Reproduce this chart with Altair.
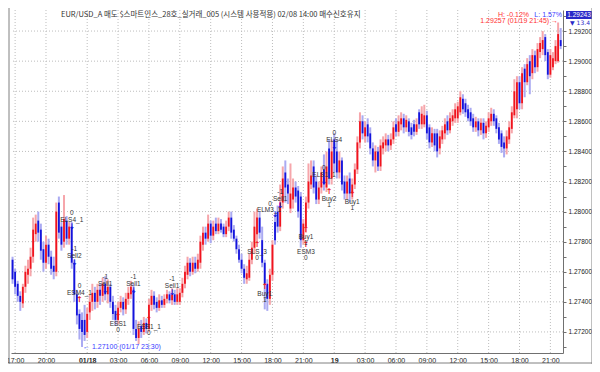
import altair as alt
import pandas as pd

# 15-minute EUR/USD bars, index 0 = 01/17 16:45
OPEN = [1.2768, 1.2760, 1.2752, 1.2744, 1.2739, 1.2750, 1.2758, 1.2762, 1.2770, 1.2785,
        1.2794, 1.2788, 1.2775, 1.2766, 1.2778, 1.2770, 1.2764, 1.2760, 1.2806, 1.2790,
        1.2780, 1.2794, 1.2782, 1.2790, 1.2766, 1.2745, 1.2732, 1.2728, 1.2728, 1.2720,
        1.2733, 1.2740, 1.2746, 1.2740, 1.2748, 1.2744, 1.2752, 1.2745, 1.2750, 1.2740,
        1.2734, 1.2728, 1.2736, 1.2740, 1.2735, 1.2742, 1.2745, 1.2748, 1.2722, 1.2716,
        1.2724, 1.2720, 1.2726, 1.2722, 1.2738, 1.2744, 1.2740, 1.2736, 1.2741, 1.2738,
        1.2742, 1.2745, 1.2741, 1.2745, 1.2740, 1.2740, 1.2746, 1.2752, 1.2758, 1.2766,
        1.2760, 1.2766, 1.2762, 1.2766, 1.2778, 1.2786, 1.2782, 1.2792, 1.2784, 1.2792,
        1.2787, 1.2792, 1.2790, 1.2785, 1.2790, 1.2796, 1.2788, 1.2782, 1.2775, 1.2768,
        1.2762, 1.2755, 1.2756, 1.2768, 1.2776, 1.2785, 1.2796, 1.2781, 1.2766, 1.2752,
        1.2742, 1.2758, 1.2793, 1.2800, 1.2790, 1.2806, 1.2826, 1.2818, 1.2802, 1.2808,
        1.2816, 1.2814, 1.2810, 1.2781, 1.2790, 1.2806, 1.2818, 1.2830, 1.2820, 1.2808,
        1.2816, 1.2828, 1.2816, 1.2842, 1.2822, 1.2848, 1.2840, 1.2826, 1.2834, 1.2820,
        1.2812, 1.2822, 1.2812, 1.2818, 1.2828, 1.2846, 1.2860, 1.2850, 1.2858, 1.2852,
        1.2842, 1.2834, 1.2840, 1.2830, 1.2842, 1.2844, 1.2848, 1.2844, 1.2848, 1.2858,
        1.2853, 1.2858, 1.2862, 1.2856, 1.2860, 1.2856, 1.2858, 1.2853, 1.2866, 1.2858,
        1.2858, 1.2864, 1.2856, 1.2846, 1.2852, 1.2852, 1.2842, 1.2848, 1.2852, 1.2860,
        1.2854, 1.2860, 1.2862, 1.2862, 1.2866, 1.2875, 1.2872, 1.2868, 1.2866, 1.2862,
        1.2856, 1.2860, 1.2854, 1.2859, 1.2852, 1.2856, 1.2860, 1.2865, 1.2862, 1.2856,
        1.2852, 1.2846, 1.2842, 1.2848, 1.2855, 1.2864, 1.2868, 1.2886, 1.2872, 1.2895,
        1.2886, 1.2900, 1.2892, 1.2904, 1.2896, 1.2906, 1.2908, 1.2916, 1.2906, 1.2891,
        1.2896, 1.2900, 1.2900, 1.2914]
HIGH = [1.2770, 1.2762, 1.2754, 1.2747, 1.2752, 1.2764, 1.2768, 1.2776, 1.2796, 1.2798,
        1.2800, 1.2792, 1.2780, 1.2784, 1.2782, 1.2774, 1.2770, 1.2806, 1.2810, 1.2793,
        1.2811, 1.2797, 1.2793, 1.2793, 1.2768, 1.2748, 1.2735, 1.2733, 1.2738, 1.2736,
        1.2745, 1.2752, 1.2750, 1.2752, 1.2752, 1.2756, 1.2757, 1.2755, 1.2752, 1.2744,
        1.2738, 1.2740, 1.2744, 1.2743, 1.2746, 1.2750, 1.2754, 1.2752, 1.2728, 1.2727,
        1.2728, 1.2730, 1.2729, 1.2742, 1.2748, 1.2747, 1.2743, 1.2745, 1.2744, 1.2745,
        1.2748, 1.2747, 1.2749, 1.2748, 1.2749, 1.2749, 1.2756, 1.2764, 1.2770, 1.2769,
        1.2770, 1.2770, 1.2772, 1.2784, 1.2790, 1.2790, 1.2798, 1.2794, 1.2794, 1.2796,
        1.2796, 1.2795, 1.2792, 1.2794, 1.2800, 1.2800, 1.2791, 1.2784, 1.2778, 1.2772,
        1.2765, 1.2764, 1.2772, 1.2780, 1.2800, 1.2802, 1.2800, 1.2790, 1.2768, 1.2755,
        1.2762, 1.2781, 1.2798, 1.2804, 1.2818, 1.2830, 1.2834, 1.2822, 1.2832, 1.2822,
        1.2820, 1.2817, 1.2813, 1.2795, 1.2810, 1.2832, 1.2834, 1.2834, 1.2824, 1.2820,
        1.2830, 1.2838, 1.2840, 1.2848, 1.2848, 1.2852, 1.2848, 1.2840, 1.2836, 1.2824,
        1.2824, 1.2826, 1.2822, 1.2832, 1.2850, 1.2866, 1.2864, 1.2860, 1.2862, 1.2856,
        1.2846, 1.2844, 1.2843, 1.2848, 1.2850, 1.2852, 1.2851, 1.2852, 1.2860, 1.2862,
        1.2864, 1.2866, 1.2865, 1.2864, 1.2862, 1.2859, 1.2861, 1.2862, 1.2868, 1.2870,
        1.2871, 1.2867, 1.2858, 1.2856, 1.2855, 1.2855, 1.2854, 1.2857, 1.2862, 1.2864,
        1.2866, 1.2868, 1.2872, 1.2873, 1.2880, 1.2878, 1.2875, 1.2871, 1.2869, 1.2865,
        1.2863, 1.2862, 1.2862, 1.2862, 1.2860, 1.2866, 1.2869, 1.2868, 1.2864, 1.2859,
        1.2854, 1.2850, 1.2854, 1.2860, 1.2870, 1.2888, 1.2890, 1.2890, 1.2896, 1.2898,
        1.2902, 1.2904, 1.2908, 1.2907, 1.2912, 1.2916, 1.2920, 1.2918, 1.2908, 1.2908,
        1.2906, 1.2914, 1.29257, 1.2922]
LOW = [1.2752, 1.2745, 1.2740, 1.2734, 1.2736, 1.2746, 1.2752, 1.2757, 1.2766, 1.2780,
       1.2780, 1.2768, 1.2760, 1.2762, 1.2765, 1.2758, 1.2755, 1.2757, 1.2782, 1.2774,
       1.2776, 1.2778, 1.2778, 1.2762, 1.2740, 1.2725, 1.2715, 1.2710, 1.2714, 1.2716,
       1.2728, 1.2734, 1.2735, 1.2736, 1.2738, 1.2740, 1.2741, 1.2739, 1.2736, 1.2728,
       1.2724, 1.2725, 1.2733, 1.2731, 1.2732, 1.2738, 1.2742, 1.2718, 1.2714, 1.2712,
       1.2716, 1.2718, 1.2719, 1.2720, 1.2734, 1.2735, 1.2733, 1.2734, 1.2736, 1.2736,
       1.2739, 1.2739, 1.2738, 1.2738, 1.2738, 1.2738, 1.2743, 1.2749, 1.2755, 1.2757,
       1.2758, 1.2759, 1.2760, 1.2762, 1.2774, 1.2778, 1.2780, 1.2779, 1.2781, 1.2785,
       1.2785, 1.2786, 1.2783, 1.2783, 1.2787, 1.2782, 1.2780, 1.2772, 1.2766, 1.2759,
       1.2752, 1.2752, 1.2754, 1.2765, 1.2772, 1.2780, 1.2782, 1.2763, 1.2735, 1.2734,
       1.2738, 1.2754, 1.2778, 1.2786, 1.2787, 1.2802, 1.2806, 1.2805, 1.2799, 1.2802,
       1.2806, 1.2796, 1.2776, 1.2778, 1.2786, 1.2802, 1.2815, 1.2812, 1.2805, 1.2805,
       1.2812, 1.2814, 1.2813, 1.2818, 1.2818, 1.2826, 1.2822, 1.2822, 1.2814, 1.2808,
       1.2808, 1.2806, 1.2808, 1.2815, 1.2825, 1.2842, 1.2848, 1.2846, 1.2846, 1.2838,
       1.2830, 1.2826, 1.2827, 1.2827, 1.2838, 1.2840, 1.2840, 1.2841, 1.2845, 1.2850,
       1.2850, 1.2854, 1.2852, 1.2853, 1.2850, 1.2848, 1.2850, 1.2851, 1.2855, 1.2855,
       1.2856, 1.2848, 1.2842, 1.2843, 1.2840, 1.2836, 1.2838, 1.2845, 1.2848, 1.2851,
       1.2852, 1.2857, 1.2859, 1.2859, 1.2864, 1.2865, 1.2863, 1.2860, 1.2857, 1.2853,
       1.2853, 1.2850, 1.2851, 1.2848, 1.2849, 1.2853, 1.2857, 1.2857, 1.2852, 1.2845,
       1.2839, 1.2836, 1.2838, 1.2845, 1.2852, 1.2862, 1.2862, 1.2868, 1.2868, 1.2876,
       1.2884, 1.2878, 1.2888, 1.2892, 1.2893, 1.2902, 1.2904, 1.2900, 1.2888, 1.2889,
       1.2894, 1.2898, 1.2899, 1.2908]
CLOSE = [1.2755, 1.2750, 1.2744, 1.2740, 1.2750, 1.2760, 1.2762, 1.2770, 1.2788, 1.2792,
         1.2786, 1.2774, 1.2766, 1.2778, 1.2770, 1.2762, 1.2760, 1.2800, 1.2786, 1.2778,
         1.2795, 1.2782, 1.2790, 1.2766, 1.2745, 1.2731, 1.2722, 1.2720, 1.2718, 1.2732,
         1.2740, 1.2746, 1.2740, 1.2748, 1.2744, 1.2752, 1.2745, 1.2750, 1.2740, 1.2732,
         1.2728, 1.2736, 1.2740, 1.2735, 1.2742, 1.2746, 1.2750, 1.2722, 1.2716, 1.2722,
         1.2720, 1.2726, 1.2722, 1.2738, 1.2744, 1.2738, 1.2736, 1.2741, 1.2738, 1.2742,
         1.2745, 1.2741, 1.2745, 1.2740, 1.2745, 1.2746, 1.2752, 1.2760, 1.2766, 1.2760,
         1.2766, 1.2762, 1.2768, 1.2780, 1.2786, 1.2782, 1.2792, 1.2784, 1.2790, 1.2787,
         1.2792, 1.2788, 1.2785, 1.2790, 1.2796, 1.2786, 1.2782, 1.2775, 1.2768, 1.2762,
         1.2756, 1.2759, 1.2768, 1.2776, 1.2790, 1.2796, 1.2786, 1.2766, 1.2752, 1.2742,
         1.2758, 1.2778, 1.2781, 1.2790, 1.2806, 1.2822, 1.2816, 1.2812, 1.2812, 1.2816,
         1.2810, 1.2800, 1.2781, 1.2792, 1.2806, 1.2820, 1.2824, 1.2816, 1.2808, 1.2816,
         1.2826, 1.2818, 1.2830, 1.2822, 1.2840, 1.2832, 1.2826, 1.2834, 1.2818, 1.2812,
         1.2820, 1.2812, 1.2818, 1.2828, 1.2846, 1.2860, 1.2852, 1.2856, 1.2850, 1.2842,
         1.2834, 1.2840, 1.2830, 1.2844, 1.2846, 1.2848, 1.2844, 1.2848, 1.2856, 1.2853,
         1.2860, 1.2862, 1.2856, 1.2861, 1.2853, 1.2851, 1.2853, 1.2858, 1.2858, 1.2865,
         1.2864, 1.2852, 1.2846, 1.2852, 1.2844, 1.2840, 1.2850, 1.2854, 1.2858, 1.2854,
         1.2862, 1.2864, 1.2868, 1.2870, 1.2876, 1.2868, 1.2866, 1.2862, 1.2860, 1.2856,
         1.2860, 1.2854, 1.2859, 1.2852, 1.2857, 1.2862, 1.2865, 1.2860, 1.2855, 1.2848,
         1.2843, 1.2842, 1.2850, 1.2856, 1.2866, 1.2880, 1.2886, 1.2872, 1.2892, 1.2886,
         1.2898, 1.2890, 1.2904, 1.2896, 1.2908, 1.2912, 1.2914, 1.2904, 1.2891, 1.2904,
         1.2902, 1.2910, 1.2918, 1.2910]

TICK_IDX = [1, 13, 29, 41, 53, 65, 77, 89, 101, 113, 125, 137, 149, 161, 173, 185, 197, 209]
TICK_LABELS = ["17:00", "20:00", "01/18", "03:00", "06:00", "09:00", "12:00", "15:00", "18:00",
               "21:00", "19", "03:00", "06:00", "09:00", "12:00", "15:00", "18:00", "21:00"]
BOLD_IDX = [29, 125]

Y_TICKS = [1.271, 1.272, 1.273, 1.274, 1.275, 1.276, 1.277, 1.278, 1.279, 1.280, 1.281, 1.282,
           1.283, 1.284, 1.285, 1.286, 1.287, 1.288, 1.289, 1.290, 1.291, 1.292, 1.293]
GRID_PRICES = [1.272, 1.274, 1.276, 1.278, 1.280, 1.282, 1.284, 1.286, 1.288, 1.290, 1.292]

SIG_IDX = [23, 24, 26, 36, 41, 47, 53, 62, 95, 98, 102, 104, 114, 114, 121, 123, 125, 132]
SIG_PRICE = [1.2790, 1.2766, 1.2741, 1.2747, 1.2730, 1.2747, 1.2728, 1.2746, 1.2778, 1.2750,
             1.2798, 1.2804, 1.2788, 1.2778, 1.2820, 1.2813, 1.2843, 1.2811]
SIG_NAME = ["ELS4_1", "Sell2", "ESM4_1", "Sell1", "ESS1", "Sell1", "ESS1_1", "Sell1", "SLS_3",
            "Buy1", "ELM3_1", "Sell1", "Buy1", "ESM3", "ELS1_1", "Buy2", "ELS4", "Buy1"]
SIG_QTY = ["0", "-1", "0", "-1", "0", "-1", "0", "-1", "0", "1", "0", "-1", "1", "0", "0", "1", "0", "1"]
SIG_SIDE = ["sell", "sell", "buy", "sell", "buy", "sell", "buy", "sell", "buy", "buy", "sell",
            "sell", "buy", "buy", "sell", "buy", "sell", "buy"]
SIG_POS = ["above", "above", "above", "above", "below", "above", "below", "above", "below",
           "below", "above", "above", "below", "below", "above", "below", "above", "below"]

TITLE = "EUR/USD_A 매도 $스마트인스_28호_실거래_005 (시스템 사용적용) 02/08 14:00  매수신호유지"

W, H = 552, 343
FONT = "Liberation Sans"

bars = pd.DataFrame({"i": list(range(len(OPEN))), "o": OPEN, "h": HIGH, "l": LOW, "c": CLOSE})
sigs = pd.DataFrame({"i": SIG_IDX, "p": SIG_PRICE, "name": SIG_NAME, "qty": SIG_QTY,
                     "side": SIG_SIDE, "pos": SIG_POS})
sigs["arrow"] = ["↓" if s == "sell" else "↑" for s in SIG_SIDE]

xs = alt.Scale(domain=[-0.6, 213.9], nice=False, zero=False)
ys = alt.Scale(domain=[1.2706, 1.2934], nice=False, zero=False)

label_expr = "".join(f"datum.value == {i} ? '{t}' : " for i, t in zip(TICK_IDX, TICK_LABELS)) + "''"
bold_test = " || ".join(f"datum.value == {i}" for i in BOLD_IDX)

X_AXIS = alt.Axis(values=TICK_IDX, labelExpr=label_expr, grid=False, ticks=False,
                  domainColor="#707070", labelFont=FONT, labelFontSize=7,
                  labelColor="#222222", labelPadding=3, labelFlush=False,
                  labelOverlap=False,
                  labelFontWeight={"condition": {"test": bold_test, "value": "bold"},
                                   "value": "normal"})
Y_AXIS = alt.Axis(orient="right", values=Y_TICKS, grid=False, tickSize=3,
                  tickColor="#707070", domainColor="#707070",
                  labelExpr="(round(datum.value*1000) % 2 == 0) ? format(datum.value, '.5f') : ''",
                  labelFont=FONT, labelFontSize=6.5, labelColor="#222222",
                  labelPadding=2, labelOverlap=False)


def X(field):
    return alt.X(field, type="quantitative", scale=xs, title=None, axis=X_AXIS)


def Y(field):
    return alt.Y(field, type="quantitative", scale=ys, title=None, axis=Y_AXIS)


up = "datum.c >= datum.o"

# grid
hgrid = alt.Chart(pd.DataFrame({"p": GRID_PRICES})).mark_rule(
    color="#bdbdbd", strokeDash=[1, 2], strokeWidth=1).encode(y=Y("p"))
vgrid = alt.Chart(pd.DataFrame({"i": TICK_IDX})).mark_rule(
    color="#bdbdbd", strokeDash=[1, 2], strokeWidth=1).encode(x=X("i"))

wick = alt.Chart(bars).mark_rule(strokeWidth=2, strokeCap="butt").encode(
    x=X("i"), y=Y("l"), y2="h:Q",
    color=alt.condition(up, alt.value("#f6a6ab"), alt.value("#aaaaf2")),
)

body = alt.Chart(bars).mark_rule(strokeWidth=1.8, strokeCap="butt").encode(
    x=X("i"), y=Y("o"), y2="c:Q",
    color=alt.condition(up, alt.value("#f0141e"), alt.value("#1414dc")),
)

sig_base = alt.Chart(sigs)
markers = sig_base.mark_text(font="DejaVu Sans", fontSize=8, fontWeight="bold", baseline="middle").encode(
    x=X("i"), y=Y("p"), text="arrow:N",
    color=alt.condition("datum.side == 'sell'", alt.value("#1414dc"), alt.value("#f0141e")),
)


def sig_text(field, pos, dy, test="true", dx=0):
    return sig_base.transform_filter(f"datum.pos == '{pos}' && ({test})").mark_text(
        font=FONT, fontSize=6.5, color="#333333", baseline="middle", dy=dy, dx=dx).encode(
        x=X("i"), y=Y("p"), text=f"{field}:N")


NUDGE = "datum.name == 'ELM3_1'"
sig_layers = [
    sig_text("name", "above", -7, f"!({NUDGE})"),
    sig_text("name", "above", -5, NUDGE, dx=-6),
    sig_text("qty", "above", -14, f"!({NUDGE})"),
    sig_text("qty", "above", -11, NUDGE, dx=-5),
    sig_text("name", "below", 7),
    sig_text("qty", "below", 13),
]

low_ann = alt.Chart(pd.DataFrame({"i": [27], "p": [1.2710], "t": ["←  1.27100 (01/17 23:30)"]})).mark_text(
    font=FONT, fontSize=7, color="#3a3aff", align="left", baseline="middle", dx=1).encode(
    x=X("i"), y=Y("p"), text="t:N")
high_ann = alt.Chart(pd.DataFrame({"i": [212], "p": [1.29257], "t": ["1.29257 (01/19 21:45)  →"]})).mark_text(
    font=FONT, fontSize=7, color="#ff3030", align="right", baseline="middle", dx=0, dy=-1).encode(
    x=X("i"), y=Y("p"), text="t:N")

hl_df = pd.DataFrame({"t": ["H: -0.12%", "L: 1.57%"], "xp": [518, W - 1], "col": ["#ff3030", "#3a3aff"]})
hl = alt.Chart(hl_df).mark_text(font=FONT, fontSize=7, align="right", baseline="middle").encode(
    x=alt.X("xp:Q", scale=None), y=alt.value(5), text="t:N",
    color=alt.Color("col:N", scale=None))

title = alt.Chart(pd.DataFrame({"t": [TITLE]})).mark_text(
    font="Noto Sans CJK KR", fontSize=7.5, color="#333333", align="left", baseline="middle").encode(
    x=alt.value(50), y=alt.value(5), text="t:N")

box = alt.Chart(pd.DataFrame({"a": [0]})).mark_rect(color="#2a2ac8").encode(
    x=alt.value(W + 3), x2=alt.value(W + 29), y=alt.value(1), y2=alt.value(9))
box_txt = alt.Chart(pd.DataFrame({"t": ["1.29243"]})).mark_text(
    font=FONT, fontSize=6.5, color="white", baseline="middle").encode(
    x=alt.value(W + 16), y=alt.value(5), text="t:N")
chg_txt = alt.Chart(pd.DataFrame({"t": ["▼  13.4"]})).mark_text(
    font="DejaVu Sans", fontSize=6, color="#2a2ac8", baseline="middle").encode(
    x=alt.value(W + 17), y=alt.value(13), text="t:N")

frame_left = alt.Chart(pd.DataFrame({"a": [0]})).mark_rule(color="#808080").encode(
    x=alt.value(-2), y=alt.value(-2), y2=alt.value(H + 11))
frame_bottom = alt.Chart(pd.DataFrame({"a": [0]})).mark_rule(color="#808080").encode(
    x=alt.value(-2), x2=alt.value(W + 29), y=alt.value(H + 10))
frame_right = alt.Chart(pd.DataFrame({"a": [0]})).mark_rule(color="#808080").encode(
    x=alt.value(W + 29), y=alt.value(-2), y2=alt.value(H + 11))

chart = alt.layer(
    hgrid, vgrid, wick, body, markers, *sig_layers, low_ann, high_ann, hl, title,
    box, box_txt, chg_txt, frame_left, frame_bottom, frame_right
).properties(
    width=W, height=H,
    autosize=alt.AutoSizeParams(type="none"),
    padding={"left": 3, "top": 2, "right": 29, "bottom": 11},
    background="white",
).configure_view(stroke=None)

chart.save("out.html", embed_options={"renderer": "svg", "actions": False})
